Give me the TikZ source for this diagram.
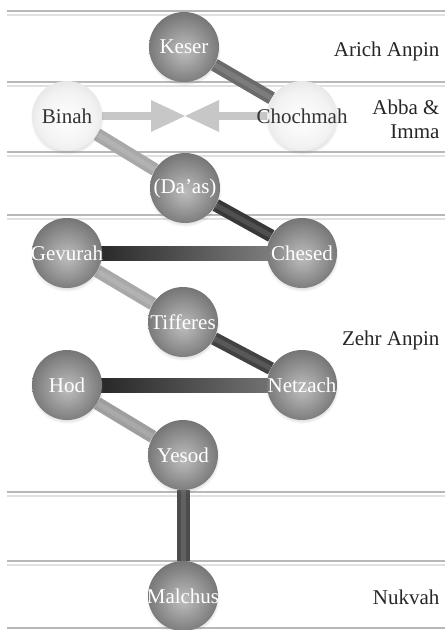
\documentclass[tikz,border=0pt]{standalone}
\usepackage{fontspec}
\setmainfont{Liberation Serif}
\usetikzlibrary{arrows.meta,backgrounds,shadows}
\pgfdeclareradialshading{darkball}{\pgfpoint{0bp}{-3bp}}{color(0bp)=(black!26); color(8bp)=(black!34); color(30bp)=(black!58); color(50bp)=(black!85)}
\pgfdeclareradialshading{paleball}{\pgfpoint{0bp}{-3bp}}{color(0bp)=(white); color(20bp)=(black!5); color(50bp)=(black!24)}
\newcommand{\sname}[1]{\makebox[0pt]{#1}}
\begin{document}
\begin{tikzpicture}[x=1pt,y=-1pt,
	every node/.style={font=\fontsize{21}{24}\selectfont},
	sefira/.style={circle,minimum size=70pt,inner sep=0pt,shading=darkball,text=white,
		circular drop shadow={shadow xshift=0pt,shadow yshift=-2pt,opacity=.3,shadow scale=1.05}},
	pale/.style={sefira,shading=paleball,text=black!80},
	rod/.style={line width=13pt,draw=#1,postaction={draw=white,draw opacity=.12,line width=5pt}},
	rule/.style={draw=black!28,line width=2.5pt},
	softrule/.style={draw=black!12,line width=1.5pt},
	level/.style={text=black!85}]
	\useasboundingbox(0,0)rectangle(445,630);
	% the ten spheres
	\node[sefira](keser)at(184,47){\sname{Keser}};
	\node[pale](binah)at(67,116){\sname{Binah}};
	\node[pale](chochmah)at(302,116){\sname{Chochmah}};
	\node[sefira](daas)at(185,188){\sname{(Da’as)}};
	\node[sefira](gevurah)at(67,253){\sname{Gevurah}};
	\node[sefira](chesed)at(302,253){\sname{Chesed}};
	\node[sefira](tifferes)at(183,322){\sname{Tifferes}};
	\node[sefira](hod)at(67,385){\sname{Hod}};
	\node[sefira](netzach)at(302,385){\sname{Netzach}};
	\node[sefira](yesod)at(183,455){\sname{Yesod}};
	\node[sefira](malchus)at(183,596){\sname{Malchus}};
	\coordinate(meet)at(185,116);
	% levels on the right
	\node[level,anchor=base east](arich)at(443,56){Arich Anpin};
	\node[level,anchor=east,align=right](abba)at(443,119){Abba \&\\Imma};
	\node[level,anchor=base east](zehr)at(443,345){Zehr Anpin};
	\node[level,anchor=base east](nukvah)at(443,604){Nukvah};
	\begin{pgfonlayer}{background}
		\foreach \y in {11,82,152,215,492,561,628}{
			\draw[rule](7,\y)--(445,\y);
			\draw[softrule](7,\y+4)--(445,\y+4);
		}
		\draw[rod=black!58](keser)--(chochmah);
		\draw[rod=black!34](binah)--(daas);
		\draw[rod=black!78](daas)--(chesed);
		\shade[left color=black!90,right color=black!45]([yshift=7pt]gevurah.center)rectangle([yshift=-7pt]chesed.center);
		\draw[rod=black!34](gevurah)--(tifferes);
		\draw[rod=black!74](tifferes)--(netzach);
		\shade[left color=black!90,right color=black!50]([yshift=7pt]hod.center)rectangle([yshift=-7pt]netzach.center);
		\draw[rod=black!38](hod)--(yesod);
		\draw[rod=black!70](yesod)--(malchus);
		\draw[draw=black!22,line width=8pt,-{Triangle[length=34pt,width=32pt,line width=0pt]}](binah)--(meet);
		\draw[draw=black!22,line width=8pt,-{Triangle[length=34pt,width=32pt,line width=0pt]}](chochmah)--(meet);
	\end{pgfonlayer}
\end{tikzpicture}
\end{document}
